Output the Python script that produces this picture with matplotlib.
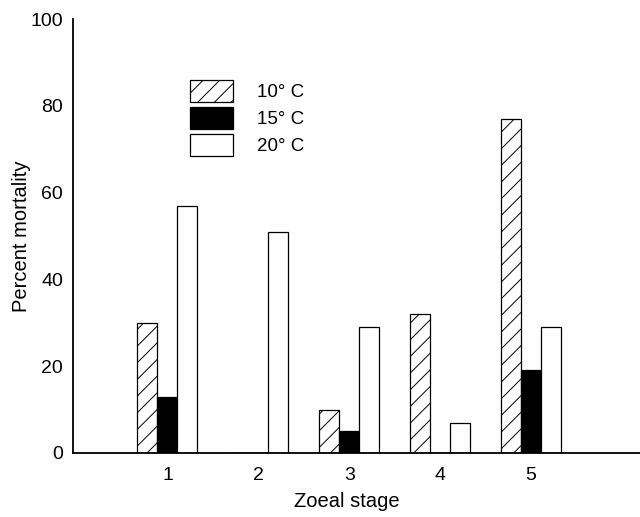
import numpy as np
import matplotlib.pyplot as plt
import matplotlib.patches as mpatches

plt.rcParams['font.family'] = ['Liberation Sans', 'DejaVu Sans']
plt.rcParams['hatch.linewidth'] = 0.7

stages = [1, 2, 3, 4, 5]
temps = ['10° C', '15° C', '20° C']
mort_10 = [30, 0, 10, 32, 77]
mort_15 = [13, 0, 5, 0, 19]
mort_20 = [57, 51, 29, 7, 29]

fig = plt.figure(figsize=(6.4, 5.17), dpi=100)
ax = fig.add_axes([0.114, 0.124, 0.886, 0.839])

x = np.array(stages, dtype=float)
w = 0.22
ax.bar(x - w, mort_10, w, facecolor='white', edgecolor='black',
       linewidth=0.9, hatch='//')
ax.bar(x, mort_15, w, facecolor='black', edgecolor='black', linewidth=0.9)
ax.bar(x + w, mort_20, w, facecolor='white', edgecolor='black', linewidth=0.9)

ax.set_xlim(-0.04, 6.2)
ax.set_ylim(0, 100)
ax.set_xticks(stages)
ax.set_yticks([0, 20, 40, 60, 80, 100])
ax.tick_params(axis='both', length=0, labelsize=14)
ax.tick_params(axis='y', pad=7)
ax.tick_params(axis='x', pad=10)
for s in ['top', 'right']:
    ax.spines[s].set_visible(False)
ax.spines['left'].set_linewidth(1.3)
ax.spines['bottom'].set_linewidth(1.3)

ax.set_xlabel('Zoeal stage', fontsize=14.5, labelpad=6, x=0.483)
ax.set_ylabel('Percent mortality', fontsize=14.5, labelpad=0)

handles = [
    mpatches.Patch(facecolor='white', edgecolor='black', hatch='//', linewidth=0.9, label=temps[0]),
    mpatches.Patch(facecolor='black', edgecolor='black', linewidth=0.9, label=temps[1]),
    mpatches.Patch(facecolor='white', edgecolor='black', linewidth=0.9, label=temps[2]),
]
ax.legend(handles=handles, loc='upper left', bbox_to_anchor=(0.206, 0.86),
          frameon=False, fontsize=13.5, handlelength=2.3, handleheight=1.4,
          labelspacing=0.29, handletextpad=1.3, borderaxespad=0, borderpad=0)

plt.savefig('out.png', dpi=100)
